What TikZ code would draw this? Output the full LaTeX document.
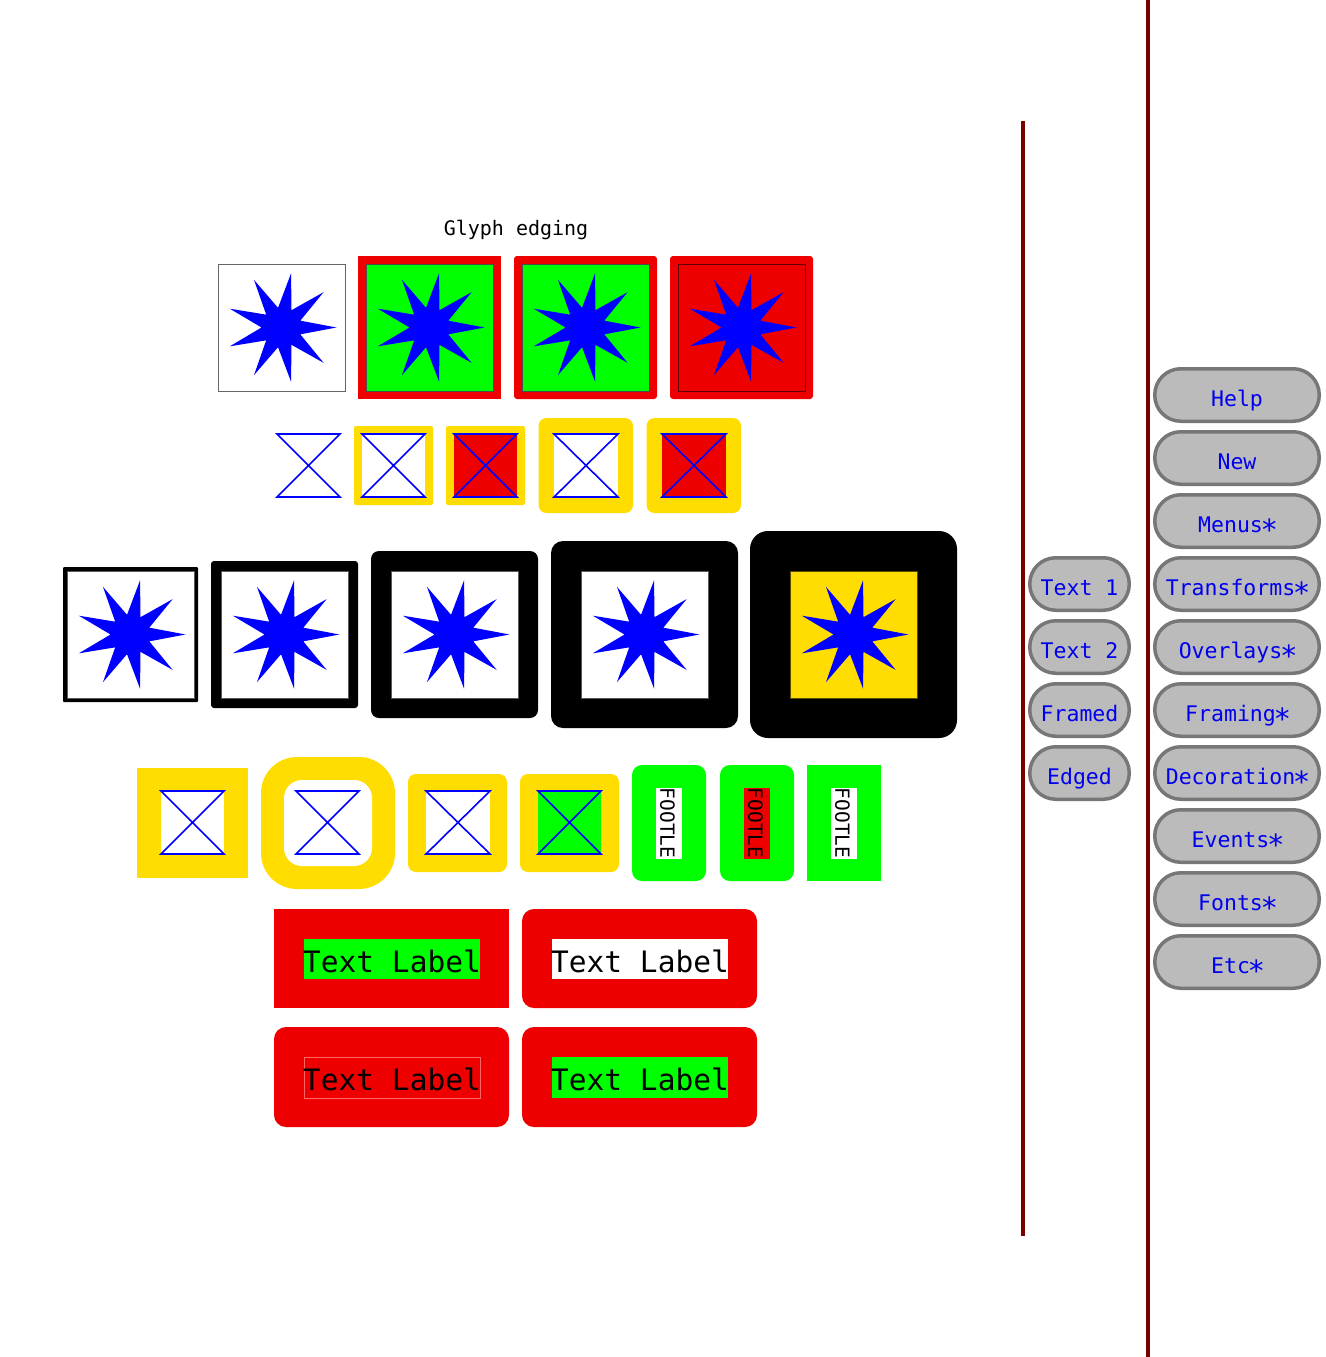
\documentclass[tikz,border=0pt]{standalone}
\usepackage{fontspec}
\usepackage{graphicx}
\setmainfont{DejaVu Sans}
\setsansfont{DejaVu Sans}
\setmonofont{DejaVu Sans Mono}
\definecolor{myred}{RGB}{238,0,0}
\definecolor{mygreen}{RGB}{0,255,0}
\definecolor{myyellow}{RGB}{255,221,0}
\definecolor{glyphblue}{RGB}{0,0,255}
\definecolor{btnfill}{RGB}{187,187,187}
\definecolor{btnedge}{RGB}{119,119,119}
\definecolor{barred}{RGB}{122,0,0}
\definecolor{txtblue}{RGB}{0,0,238}
\newcommand{\bigstarmark}{\makebox[0.602em][c]{\raisebox{-0.1em}{\scalebox{1.35}{∗}}}}
\newcommand{\nstar}[2]{\fill[glyphblue,shift={(#1,#2)}] (0:55) -- (20:20) -- (40:55) -- (60:20) -- (80:55) -- (100:20) -- (120:55) -- (140:20) -- (160:55) -- (180:20) -- (200:55) -- (220:20) -- (240:55) -- (260:20) -- (280:55) -- (300:20) -- (320:55) -- (340:20) -- cycle;}
\newcommand{\hglass}[4]{\draw[glyphblue,line width=1.6,line join=miter] (#1,#2) -- (#3,#2) -- (#1,#4) -- (#3,#4) -- cycle;}
\tikzset{
  innerbox/.style={fill=white,draw=black!65,line width=1},
  btn/.style={fill=btnfill,draw=btnedge,line width=3.5,rounded corners=26},
  btntext/.style={font=\ttfamily\fontsize{21.5}{24}\selectfont,text=txtblue,anchor=base,inner sep=0},
  lbltext/.style={font=\ttfamily\fontsize{29.5}{34}\selectfont,text=black,anchor=base,inner sep=0},
  footle/.style={font=\ttfamily\fontsize{19.5}{22}\selectfont,text=black,rotate=-90,inner sep=0},
  bar/.style={draw=barred,line width=4}
}
\begin{document}
\begin{tikzpicture}[x=1pt,y=-1pt]
\useasboundingbox (0,0) rectangle (1325,1357);
\fill[white] (0,0) rectangle (1325,1357);

% title
\node[font=\ttfamily\fontsize{20}{24}\selectfont,anchor=base,inner sep=0] (title) at (516,235) {Glyph edging};

% ---- row 1
\filldraw[fill=white,draw=black!60,line width=1] (218.5,264.5) rectangle (345,391);
\nstar{281.5}{327.5}
\fill[myred] (358,256) rectangle (501,399);
\filldraw[fill=mygreen,draw=black!70,line width=1] (366,264) rectangle (493,391);
\nstar{429.5}{327.5}
\fill[myred,rounded corners=3] (514,256) rectangle (657,399);
\filldraw[fill=mygreen,draw=black!70,line width=1] (522,264) rectangle (649,391);
\nstar{585.5}{327.5}
\fill[myred,rounded corners=3] (670,256) rectangle (813,399);
\filldraw[fill=myred,draw=black!60!myred,line width=1] (678,264) rectangle (805,391);
\nstar{741.5}{327.5}

% ---- row 2
\hglass{277}{434}{340}{497}
\fill[myyellow,rounded corners=2] (354,426) rectangle (433,505);
\fill[white] (362,434) rectangle (425,497);
\hglass{362}{434}{425}{497}
\fill[myyellow,rounded corners=2] (446,426) rectangle (525,505);
\fill[myred] (454,434) rectangle (517,497);
\hglass{454}{434}{517}{497}
\fill[myyellow,rounded corners=8] (538.5,418) rectangle (633,513);
\fill[white] (554,434) rectangle (618,497);
\hglass{554}{434}{618}{497}
\fill[myyellow,rounded corners=8] (646.5,418) rectangle (741,513);
\fill[myred] (662,434) rectangle (726,497);
\hglass{662}{434}{726}{497}

% ---- row 3
\fill[black,rounded corners=1] (63,567) rectangle (198,702);
\filldraw[innerbox] (67,571) rectangle (194,698);
\nstar{130.5}{634.5}
\fill[black,rounded corners=3] (211,561) rectangle (358,708);
\filldraw[innerbox] (221,571) rectangle (348,698);
\nstar{284.5}{634.5}
\fill[black,rounded corners=8] (371,551) rectangle (538,718);
\filldraw[innerbox] (391,571) rectangle (518,698);
\nstar{454.5}{634.5}
\fill[black,rounded corners=12] (551,541) rectangle (738,728);
\filldraw[innerbox] (581,571) rectangle (708,698);
\nstar{644.5}{634.5}
\fill[black,rounded corners=18] (750,531) rectangle (957,738);
\filldraw[fill=myyellow,draw=black!65!myyellow,line width=1] (790,571) rectangle (917,698);
\nstar{853.5}{634.5}

% ---- row 4
\fill[myyellow] (137,768) rectangle (248,878);
\fill[white] (161,791) rectangle (224,854);
\hglass{161}{791}{224}{854}
\fill[myyellow,rounded corners=36] (261,757) rectangle (395,889);
\fill[white,rounded corners=18] (284,780) rectangle (372,866);
\hglass{296}{791}{359}{854}
\fill[myyellow,rounded corners=8] (408,774) rectangle (507,872);
\fill[white] (426,791) rectangle (490,854);
\hglass{426}{791}{490}{854}
\fill[myyellow,rounded corners=8] (520,774) rectangle (619,872);
\fill[mygreen] (538,791) rectangle (601,854);
\hglass{538}{791}{601}{854}
\fill[mygreen,rounded corners=10] (632,765) rectangle (706,881);
\fill[white] (656,788) rectangle (682,859);
\node[footle] (f1) at (667.5,823) {FOOTLE};
\fill[mygreen,rounded corners=10] (720,765) rectangle (794,881);
\fill[myred] (744,788) rectangle (770,859);
\node[footle] (f2) at (755.5,823) {FOOTLE};
\fill[mygreen] (807,765) rectangle (881,881);
\fill[white] (831,788) rectangle (857,859);
\node[footle] (f3) at (842.5,823) {FOOTLE};

% ---- row 5
\fill[myred] (274,909) rectangle (509,1008);
\fill[mygreen] (304,939) rectangle (480,979);
\node[lbltext] (l1) at (392,972.5) {Text Label};
\fill[myred,rounded corners=12] (522,909) rectangle (757,1008);
\fill[white] (552,939) rectangle (728,979);
\node[lbltext] (l2) at (640,972.5) {Text Label};
\fill[myred,rounded corners=12] (274,1027) rectangle (509,1127);
\filldraw[fill=myred,draw=red!60!white,line width=0.6] (304,1057) rectangle (480,1098);
\node[lbltext] (l3) at (392,1090.5) {Text Label};
\fill[myred,rounded corners=12] (522,1027) rectangle (757,1127);
\fill[mygreen] (552,1057) rectangle (728,1098);
\node[lbltext] (l4) at (640,1090.5) {Text Label};

% ---- bars
\draw[bar] (1023,121) -- (1023,1236);
\draw[bar] (1148,0) -- (1148,1357);

% ---- right buttons
\foreach \t [count=\i from 0] in {Help,New,Menus\bigstarmark,Transforms\bigstarmark,Overlays\bigstarmark,Framing\bigstarmark,Decoration\bigstarmark,Events\bigstarmark,Fonts\bigstarmark,Etc\bigstarmark}{
  \draw[btn] (1154.75,{368.75+63*\i}) rectangle (1319.25,{421.25+63*\i});
  \node[btntext] (rb\i) at (1237,{406+63*\i}) {\t};
}
\foreach \t [count=\i from 0] in {Text 1,Text 2,Framed,Edged}{
  \draw[btn] (1029.75,{557.75+63*\i}) rectangle (1129.25,{610.25+63*\i});
  \node[btntext] (lb\i) at (1079.5,{595+63*\i}) {\t};
}
\end{tikzpicture}
\end{document}
